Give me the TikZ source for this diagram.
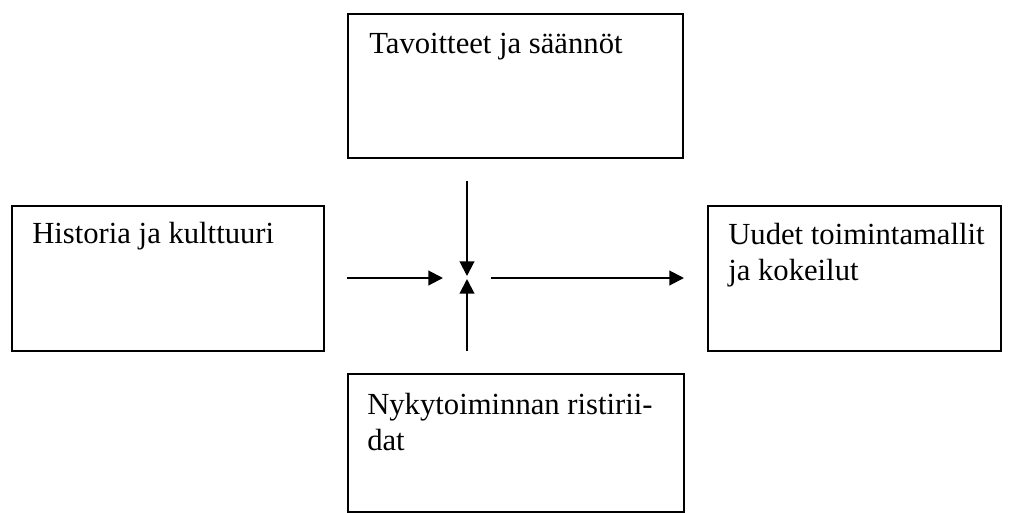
\documentclass[tikz,border=0pt]{standalone}
\usepackage{fontspec}
\setmainfont{Liberation Serif}
\usetikzlibrary{arrows.meta}
\begin{document}
\begin{tikzpicture}[x=0.75pt,y=-0.75pt,
  box/.style={draw=black,line width=1.5pt,inner sep=0pt,anchor=north west},
  lbl/.style={inner sep=0pt,anchor=base west,align=left,font=\fontsize{23pt}{27pt}\selectfont},
  arr/.style={line width=1.5pt,-{Triangle[length=11pt,width=11pt]}}]
\useasboundingbox (0,0) rectangle (1010,512);
\node[box,minimum width=335*0.75pt,minimum height=144*0.75pt] (tavo) at (347,13) {};
\node[box,minimum width=312*0.75pt,minimum height=145*0.75pt] (hist) at (11,205) {};
\node[box,minimum width=293*0.75pt,minimum height=145*0.75pt] (uude) at (707,205) {};
\node[box,minimum width=336*0.75pt,minimum height=138*0.75pt] (nyky) at (347,373) {};
\node[lbl] (tavot) at (369,53) {Tavoitteet ja säännöt};
\node[lbl] (histt) at (32,243) {Historia ja kulttuuri};
\node[lbl] (uudet) at (728,280) {Uudet toimintamallit\\ja kokeilut};
\node[lbl] (nykyt) at (367,450) {Nykytoiminnan ristirii-\\dat};
\coordinate (a1) at (467,181);
\coordinate (a1e) at (467,276);
\coordinate (a2) at (467,351);
\coordinate (a2e) at (467,279);
\coordinate (a3) at (347,278);
\coordinate (a3e) at (443,278);
\coordinate (a4) at (491,278);
\coordinate (a4e) at (684,278);
\draw[arr] (a1) -- (a1e);
\draw[arr] (a2) -- (a2e);
\draw[arr] (a3) -- (a3e);
\draw[arr] (a4) -- (a4e);
\end{tikzpicture}
\end{document}
